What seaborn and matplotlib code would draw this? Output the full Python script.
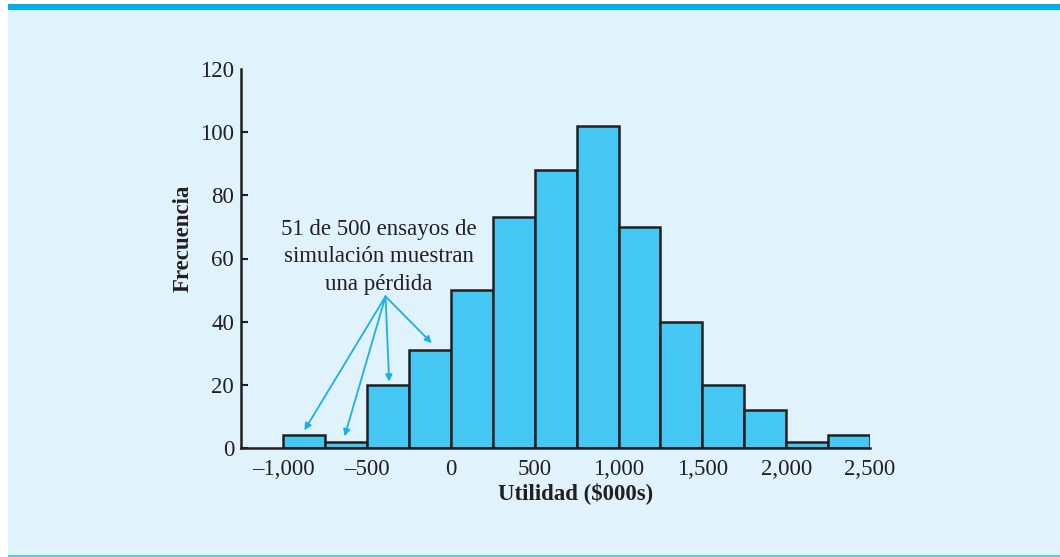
# histograma de utilidad simulada (500 ensayos)
import numpy as np
import pandas as pd
import matplotlib.pyplot as plt
import seaborn as sns

# datos
bin_edges = [-1000, -750, -500, -250, 0, 250, 500, 750, 1000, 1250, 1500, 1750, 2000, 2250, 2500]
frecuencias = [4, 2, 20, 31, 50, 73, 88, 102, 70, 40, 20, 12, 2, 4]
x_ticks = [-1000, -500, 0, 500, 1000, 1500, 2000, 2500]
x_tick_labels = ["\u20131,000", "\u2013500", "0", "500", "1,000", "1,500", "2,000", "2,500"]
y_ticks = [0, 20, 40, 60, 80, 100, 120]

# puntos de las flechas (barras con perdida)
flecha_origen = (-390, 48)
flecha_destinos = [(-874, 5.6), (-634, 3.7), (-368, 21), (-114, 33.2)]

df = pd.DataFrame({
    "utilidad": [(a + b) / 2 for a, b in zip(bin_edges[:-1], bin_edges[1:])],
    "frecuencia": frecuencias,
})

sns.set_style("ticks")
plt.rcParams["font.family"] = ["Liberation Serif", "DejaVu Serif"]

fondo = "#E0F2FC"
tinta = "#231F20"
fs = 16.5
fig = plt.figure(figsize=(10.6, 5.57), dpi=100)
fig.patch.set_facecolor("white")

# panel de fondo con banda superior
fig.patches.append(plt.Rectangle((8 / 1060, 0.002), 1 - 8 / 1060, 1 - 10 / 557 - 0.002,
                                 transform=fig.transFigure, facecolor=fondo, edgecolor="none", zorder=-3))
fig.patches.append(plt.Rectangle((8 / 1060, 1 - 10 / 557), 1 - 8 / 1060, 6 / 557,
                                 transform=fig.transFigure, facecolor="#00AEEF", edgecolor="none", zorder=-2))
fig.patches.append(plt.Rectangle((8 / 1060, 0.0), 1 - 8 / 1060, 2 / 557,
                                 transform=fig.transFigure, facecolor="#5BC8EE", edgecolor="none", zorder=-2))

ax = fig.add_axes([241 / 1060, 1 - 448 / 557, 629 / 1060, 379 / 557])
ax.set_facecolor("none")

sns.histplot(data=df, x="utilidad", weights="frecuencia", bins=bin_edges,
             color="#45C7F4", edgecolor=tinta, linewidth=1.8, alpha=1, ax=ax)

ax.set_xlim(-1252, 2500)
ax.set_ylim(0, 120)
ax.set_xticks(x_ticks)
ax.set_xticklabels(x_tick_labels)
ax.set_yticks(y_ticks)
ax.tick_params(axis="x", length=0, pad=8, labelsize=fs, colors=tinta)
ax.tick_params(axis="y", direction="in", length=5, width=1.5, pad=5, labelsize=fs, colors=tinta)
ax.yaxis.get_major_ticks()[-1].tick1line.set_visible(False)

sns.despine(ax=ax)
for s in ["left", "bottom"]:
    ax.spines[s].set_linewidth(1.8)
    ax.spines[s].set_color(tinta)

ax.set_xlabel("Utilidad ($000s)", fontsize=fs, fontweight="bold", color=tinta)
ax.set_ylabel("Frecuencia", fontsize=fs, fontweight="bold", color=tinta)
ax.xaxis.set_label_coords(0.532, -0.09)
ax.yaxis.set_label_coords(-0.075, 0.554)

ax.text(-432, 48.6, "51 de 500 ensayos de\nsimulación muestran\nuna pérdida",
        ha="center", va="bottom", fontsize=fs, linespacing=1.38, color=tinta)

for destino in flecha_destinos:
    ax.annotate("", xy=destino, xytext=flecha_origen,
                arrowprops=dict(arrowstyle="-|>", color="#1CB0E8", lw=1.3,
                                mutation_scale=10, shrinkA=0, shrinkB=0))

fig.savefig("out.png", dpi=100, facecolor=fig.get_facecolor())
